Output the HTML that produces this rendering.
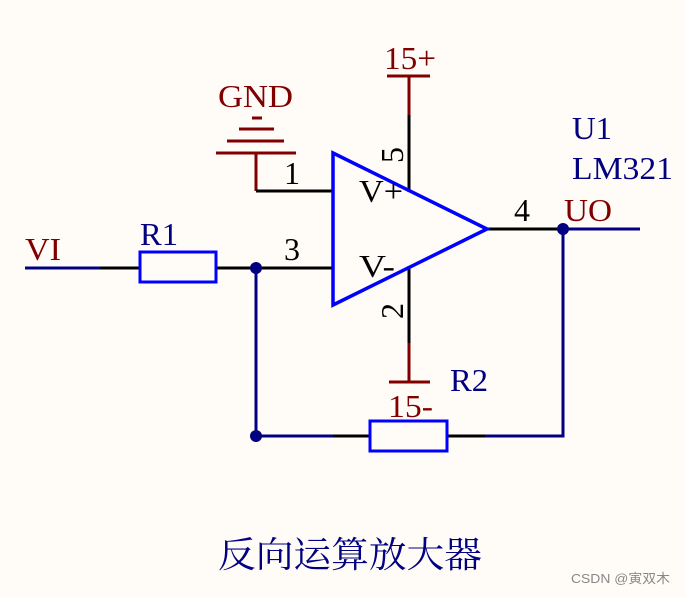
<!DOCTYPE html>
<html><head><meta charset="utf-8"><style>
html,body{margin:0;padding:0;background:#fffcf8;}
svg text{font-family:"Liberation Serif","Noto Serif CJK SC",serif;}
</style></head><body>
<svg width="686" height="592" viewBox="0 0 686 592" xmlns="http://www.w3.org/2000/svg">
<rect width="686" height="592" fill="#fffcf8"/>
<g stroke-width="3" fill="none">
<line x1="25" y1="268" x2="100" y2="268" stroke="#000080"/>
<line x1="100" y1="268" x2="140" y2="268" stroke="#000"/>
<line x1="216" y1="268" x2="333" y2="268" stroke="#000"/>
<line x1="256" y1="268" x2="256" y2="436" stroke="#000080"/>
<line x1="256" y1="436" x2="333" y2="436" stroke="#000080"/>
<line x1="333" y1="436" x2="370" y2="436" stroke="#000"/>
<line x1="447" y1="436" x2="485" y2="436" stroke="#000"/>
<polyline points="485,436 563,436 563,229" stroke="#000080"/>
<line x1="487" y1="229" x2="563" y2="229" stroke="#000"/>
<line x1="563" y1="229" x2="640" y2="229" stroke="#000080"/>
<line x1="409" y1="76" x2="409" y2="115" stroke="#800000"/>
<line x1="409" y1="115" x2="409" y2="192" stroke="#000"/>
<line x1="387" y1="76" x2="430" y2="76" stroke="#800000"/>
<line x1="409" y1="266" x2="409" y2="343" stroke="#000"/>
<line x1="409" y1="343" x2="409" y2="382" stroke="#800000"/>
<line x1="389" y1="382" x2="430" y2="382" stroke="#800000"/>
<line x1="216" y1="153" x2="296" y2="153" stroke="#800000"/>
<line x1="227" y1="141" x2="284" y2="141" stroke="#800000"/>
<line x1="239" y1="129" x2="274" y2="129" stroke="#800000"/>
<line x1="252" y1="118" x2="262" y2="118" stroke="#800000"/>
<line x1="256" y1="153" x2="256" y2="191" stroke="#800000"/>
<line x1="256" y1="191" x2="333" y2="191" stroke="#000"/>
<rect x="140" y="252" width="76" height="30" stroke="#0000ff"/>
<rect x="370" y="421" width="77" height="30" stroke="#0000ff"/>
<polygon points="333,153 333,305 487,229" stroke="#0000ff" stroke-width="3.5"/>
</g>
<g fill="#000080">
<circle cx="256" cy="268" r="6"/><circle cx="256" cy="436" r="6"/><circle cx="563" cy="229" r="6"/>
</g>
<g font-size="32">
<text x="384" y="69" fill="#800000" textLength="52" lengthAdjust="spacingAndGlyphs">15+</text>
<text x="218" y="107" fill="#800000" textLength="75" lengthAdjust="spacingAndGlyphs">GND</text>
<text x="284" y="184" fill="#000">1</text>
<text x="284" y="260" fill="#000">3</text>
<text x="359" y="202" fill="#000" textLength="44" lengthAdjust="spacingAndGlyphs">V+</text>
<text x="359" y="277" fill="#000" textLength="36" lengthAdjust="spacingAndGlyphs">V-</text>
<text x="514" y="221" fill="#000">4</text>
<text x="564" y="221" fill="#800000" textLength="48" lengthAdjust="spacingAndGlyphs">UO</text>
<text x="572" y="139" fill="#000080" textLength="40" lengthAdjust="spacingAndGlyphs">U1</text>
<text x="572" y="179" fill="#000080" textLength="101" lengthAdjust="spacingAndGlyphs">LM321</text>
<text x="25" y="260" fill="#800000" textLength="36" lengthAdjust="spacingAndGlyphs">VI</text>
<text x="140" y="245" fill="#000080" textLength="38" lengthAdjust="spacingAndGlyphs">R1</text>
<text x="450" y="391" fill="#000080" textLength="38" lengthAdjust="spacingAndGlyphs">R2</text>
<text x="388" y="417" fill="#800000" textLength="45" lengthAdjust="spacingAndGlyphs">15-</text>
<text transform="translate(403,163) rotate(-90)" fill="#000">5</text>
<text transform="translate(403,319) rotate(-90)" fill="#000">2</text>
</g>
<text x="218" y="567" font-size="36" fill="#000080" textLength="264" lengthAdjust="spacingAndGlyphs" style="font-family:'Noto Serif CJK SC','Noto Sans CJK SC',serif">反向运算放大器</text>
<text x="571" y="583" font-size="13" fill="#888" textLength="99" lengthAdjust="spacingAndGlyphs" style="font-family:'Liberation Sans','Noto Sans CJK SC',sans-serif">CSDN @寅双木</text>
</svg>
</body></html>
